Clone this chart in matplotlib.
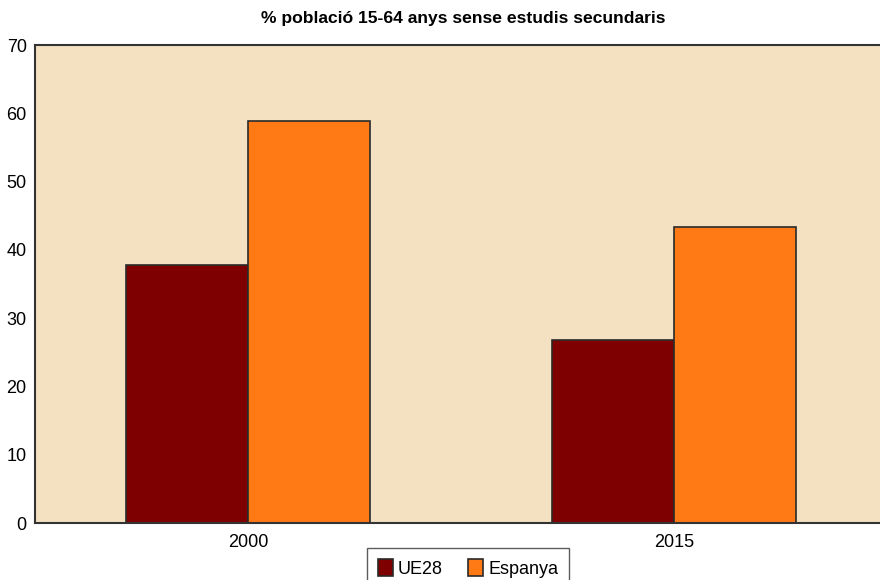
import matplotlib
matplotlib.use("Agg")
import matplotlib.pyplot as plt
import numpy as np

categories = ["2000", "2015"]
series_names = ["UE28", "Espanya"]
ue28 = [37.8, 26.8]
espanya = [58.8, 43.4]
yticks = [0, 10, 20, 30, 40, 50, 60, 70]
title = "% població 15-64 anys sense estudis secundaris"

plt.rcParams['font.family'] = ['Liberation Sans', 'DejaVu Sans']

W, H = 880, 580
fig = plt.figure(figsize=(W / 100, H / 100), dpi=100)
fig.patch.set_facecolor("white")
ax = fig.add_axes([35 / W, (H - 523) / H, 852 / W, 478 / H])
ax.set_facecolor("#F3E1C2")

x = np.arange(len(categories))
bw = 0.286
b1 = ax.bar(x - bw / 2, ue28, bw, color="#7F0000", edgecolor="#2a2a2a", linewidth=1.2, label=series_names[0])
b2 = ax.bar(x + bw / 2, espanya, bw, color="#FF7915", edgecolor="#2a2a2a", linewidth=1.2, label=series_names[1])

ax.set_xlim(-0.5, 1.5)
ax.set_ylim(0, 70)
ax.set_yticks(yticks)
ax.set_xticks(x)
ax.set_xticklabels(categories)
ax.tick_params(axis="both", labelsize=13, length=0, colors="black")
ax.tick_params(axis="y", pad=6)
ax.tick_params(axis="x", pad=8)
for s in ["left", "top", "bottom"]:
    ax.spines[s].set_color("#333333")
    ax.spines[s].set_linewidth(1.5)
ax.spines["right"].set_visible(False)

fig.text(463 / W, 1 - 18 / H, title, ha="center", va="center", fontsize=12.6, fontweight="bold")

leg = fig.legend(handles=[b1, b2], labels=series_names, loc="upper center",
                 bbox_to_anchor=(468 / W, 1 - 548 / H), ncol=2, fontsize=13,
                 frameon=True, fancybox=False, edgecolor="#333333",
                 handlelength=0.85, handleheight=1.1, handletextpad=0.25,
                 columnspacing=1.4, borderpad=0.6, borderaxespad=0)
leg.get_frame().set_linewidth(1.0)

fig.savefig("out.png", dpi=100)
